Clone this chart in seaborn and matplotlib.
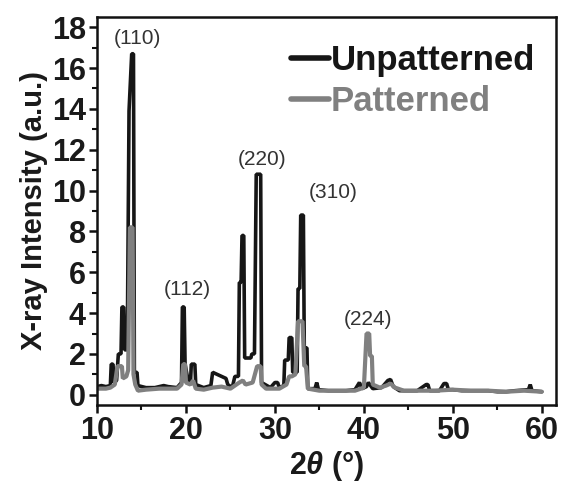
import matplotlib
matplotlib.use("Agg")
import matplotlib.pyplot as plt
import seaborn as sns
import pandas as pd
from matplotlib.ticker import MultipleLocator

# Data (2theta in degrees, intensity a.u.)
unpat_x = [10.0, 10.5, 11.0, 11.5, 11.6, 11.8, 11.9, 12.2, 12.4, 12.7, 12.8, 13.0, 13.1, 13.4,
           13.6, 13.9, 14.1, 14.2, 14.5, 14.6, 15.5, 16.5, 17.0, 17.5, 18.0, 19.0, 19.5, 19.6,
           19.8, 19.9, 20.2, 20.5, 20.6, 21.0, 21.1, 22.0, 22.8, 23.0, 23.5, 24.0, 24.5, 24.7,
           25.2, 25.5, 25.9, 26.0, 26.2, 26.3, 26.5, 26.6, 27.3, 27.4, 27.7, 27.9, 28.4, 28.5,
           29.5, 30.0, 30.3, 30.5, 31.0, 31.1, 31.5, 31.6, 31.9, 32.0, 32.5, 32.6, 32.8, 32.9,
           33.2, 33.3, 33.6, 33.7, 34.5, 34.7, 34.9, 36.0, 37.0, 38.0, 39.0, 39.5, 39.8, 40.3,
           40.5, 41.0, 42.0, 42.7, 43.0, 43.3, 44.0, 45.0, 46.0, 47.0, 47.2, 47.4, 48.5, 49.0,
           49.3, 49.5, 50.0, 51.0, 52.0, 53.0, 54.0, 55.0, 56.0, 57.0, 58.5, 58.7, 58.9, 60.0]
unpat_y = [0.4, 0.45, 0.4, 0.45, 1.5, 1.5, 0.6, 0.7, 2.0, 2.0, 4.3, 4.3, 2.2, 2.2,
           13.9, 16.7, 16.7, 1.1, 1.1, 0.45, 0.35, 0.35, 0.4, 0.45, 0.4, 0.35, 0.6, 4.3,
           4.3, 1.5, 0.8, 0.5, 1.5, 1.5, 0.5, 0.35, 0.45, 1.1, 1.0, 0.9, 0.8, 0.5,
           0.35, 0.9, 0.9, 5.5, 5.5, 7.8, 7.8, 1.8, 1.8, 2.0, 2.0, 10.8, 10.8, 0.6,
           0.35, 0.6, 0.6, 0.35, 0.45, 1.7, 1.7, 2.8, 2.8, 1.1, 1.1, 5.2, 5.2, 8.8,
           8.8, 2.3, 2.3, 0.3, 0.3, 0.6, 0.25, 0.2, 0.2, 0.2, 0.25, 0.6, 0.3, 0.4,
           0.6, 0.3, 0.35, 0.7, 0.75, 0.4, 0.2, 0.2, 0.2, 0.5, 0.5, 0.2, 0.2, 0.55,
           0.55, 0.25, 0.25, 0.2, 0.2, 0.2, 0.2, 0.15, 0.15, 0.2, 0.25, 0.5, 0.2, 0.15]

pat_x = [10.0, 11.0, 11.5, 12.0, 12.3, 12.8, 12.9, 13.3, 13.5, 13.7, 14.0, 14.1, 14.3, 14.6,
         15.5, 17.0, 18.0, 19.0, 19.5, 19.7, 19.9, 20.0, 20.5, 20.8, 21.1, 22.0, 23.0, 24.0,
         25.0, 26.0, 26.4, 26.7, 27.5, 28.0, 28.4, 28.5, 29.0, 30.5, 31.3, 31.6, 31.9, 32.3,
         32.6, 33.1, 33.3, 33.5, 33.7, 35.0, 37.0, 39.0, 40.0, 40.3, 40.6, 40.7, 40.9, 41.0,
         41.8, 42.5, 43.0, 43.5, 44.5, 46.0, 48.0, 50.0, 52.0, 54.0, 56.0, 58.0, 60.0]
pat_y = [0.3, 0.3, 0.35, 0.5, 1.4, 1.4, 0.8, 0.9, 1.2, 8.2, 8.2, 1.0, 0.5, 0.2,
         0.25, 0.3, 0.3, 0.3, 0.5, 1.5, 1.5, 0.6, 0.5, 0.7, 0.3, 0.25, 0.35, 0.4,
         0.3, 0.6, 0.7, 0.5, 0.6, 1.4, 1.4, 0.5, 0.3, 0.3, 0.5, 0.9, 0.9, 1.0,
         3.6, 3.6, 1.4, 1.4, 0.3, 0.2, 0.2, 0.2, 0.35, 3.0, 3.0, 1.9, 1.9, 0.5,
         0.35, 0.45, 0.55, 0.35, 0.2, 0.2, 0.2, 0.25, 0.2, 0.2, 0.15, 0.2, 0.15]

series_names = ["Unpatterned", "Patterned"]
series_colors = ["#161616", "#808080"]

peak_labels = ["(110)", "(112)", "(220)", "(310)", "(224)"]
peak_label_x = [14.5, 20.2, 28.6, 36.6, 40.5]
peak_label_y = [17.45, 5.15, 11.5, 9.9, 3.7]

sns.set_style("ticks")
plt.rcParams['font.family'] = ['Liberation Sans', 'DejaVu Sans']
plt.rcParams['mathtext.fontset'] = 'custom'
plt.rcParams['mathtext.it'] = 'Liberation Sans:bold:italic'
plt.rcParams['mathtext.rm'] = 'Liberation Sans:bold'

fig = plt.figure(figsize=(5.63, 4.86), dpi=100)
ax = fig.add_axes([0.1723, 0.1667, 0.9876 - 0.1723, 0.965 - 0.1667])

df_u = pd.DataFrame({"x": unpat_x, "y": unpat_y})
df_p = pd.DataFrame({"x": pat_x, "y": pat_y})
sns.lineplot(data=df_u, x="x", y="y", ax=ax, color=series_colors[0], lw=2.6,
             sort=False, estimator=None, label=series_names[0])
sns.lineplot(data=df_p, x="x", y="y", ax=ax, color=series_colors[1], lw=3.0,
             sort=False, estimator=None, label=series_names[1])
for ln in ax.get_lines():
    ln.set_solid_joinstyle('bevel')

ax.set_xlim(10, 61.6)
ax.set_ylim(-0.5, 18.5)
ax.set_xticks([10, 20, 30, 40, 50, 60])
ax.set_yticks(list(range(0, 19, 2)))
ax.xaxis.set_minor_locator(MultipleLocator(5))
ax.yaxis.set_minor_locator(MultipleLocator(1))
ax.tick_params(axis='both', which='major', direction='out', length=6, width=1.8,
               labelsize=22, pad=2, color='#111111')
ax.tick_params(axis='both', which='minor', direction='out', length=3.5, width=1.5,
               color='#111111')
for lab in ax.get_xticklabels() + ax.get_yticklabels():
    lab.set_fontweight('bold')
    lab.set_color('#1a1a1a')
for s in ax.spines.values():
    s.set_linewidth(1.8)
    s.set_color('#111111')

ax.set_xlabel(r"2$\mathit{\theta}$ (°)", fontsize=22, fontweight='bold', color='#1a1a1a', labelpad=2)
ax.set_ylabel("X-ray Intensity (a.u.)", fontsize=21, fontweight='bold', color='#1a1a1a', labelpad=3)

for t, x, y in zip(peak_labels, peak_label_x, peak_label_y):
    ax.text(x, y, t, ha='center', va='center', fontsize=15, color='#333333')

leg = ax.legend(loc='upper right', frameon=False, fontsize=25, handlelength=1.1,
                handletextpad=0.05, labelspacing=0.25, borderaxespad=0.2,
                bbox_to_anchor=(1.0, 0.985), labelcolor='linecolor')
for txt in leg.get_texts():
    txt.set_fontweight('bold')
for h in leg.get_lines():
    h.set_linewidth(4)

fig.savefig("out.png", dpi=100)
